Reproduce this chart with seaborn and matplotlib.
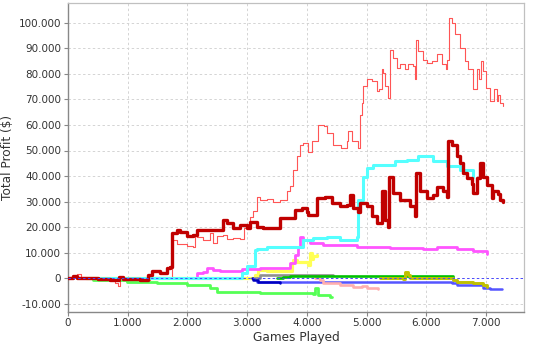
import matplotlib
matplotlib.use("Agg")
import matplotlib.pyplot as plt
import seaborn as sns
import pandas as pd
from matplotlib.ticker import FuncFormatter

# ---------------- data ----------------
red_x = [0, 90, 150, 220, 300, 420, 600, 790, 840, 870, 920, 990, 1200, 1250, 1370, 1420, 1550, 1660,
         1740, 1820, 1990, 2100, 2130, 2160, 2260, 2380, 2430, 2500, 2600, 2660, 2770, 2880, 2940, 3000,
         3050, 3100, 3160, 3220, 3330, 3430, 3550, 3660, 3720, 3775, 3830, 3886, 3940, 4025, 4080, 4190,
         4280, 4330, 4440, 4580, 4670, 4695, 4750, 4860, 4890, 4920, 4946, 5000, 5090, 5170, 5210, 5255,
         5280, 5310, 5365, 5394, 5450, 5506, 5561, 5645, 5700, 5780, 5812, 5824, 5868, 5951, 6008, 6092,
         6176, 6260, 6332, 6353, 6382, 6427, 6482, 6566, 6650, 6705, 6789, 6846, 6889, 6913, 6956, 7002,
         7069, 7136, 7181, 7208, 7236, 7281]
red_y = [0, 800, 1500, 600, 0, -500, -800, -2000, -2900, 0, -400, -1300, -1300, -800, 0, 500, 600, 300,
         15000, 13500, 12800, 12400, 17000, 16000, 15000, 17700, 13800, 16500, 16800, 15500, 15800, 15500,
         19700, 21000, 24000, 26500, 32000, 30500, 31000, 30000, 30700, 34000, 36000, 42500, 47700, 52300,
         52900, 49600, 53600, 60100, 59500, 56900, 52300, 51000, 53600, 57500, 53600, 51000, 64000, 68600,
         75100, 77800, 77100, 73200, 74000, 81700, 80400, 75100, 70600, 89500, 86300, 82400, 83700, 81700,
         83700, 83000, 77800, 93400, 88900, 85500, 84300, 84900, 87600, 83700, 81700, 85500, 102000,
         100000, 95400, 90200, 84900, 81700, 73900, 81700, 78000, 84900, 81000, 74500, 69300, 73900,
         69300, 71900, 68600, 67300]

blue_x = [2993, 3161, 3774, 4500, 6343, 6427, 6511, 6901, 6956, 7069, 7270]
blue_y = [0, -1300, -1300, -1400, -1400, -2000, -2600, -2600, -3900, -4300, -4300]

green_x = [250, 419, 988, 1491, 1993, 2379, 2496, 3216, 3719, 4109, 4137, 4193, 4389, 4430]
green_y = [0, -700, -1300, -2000, -2600, -3900, -5200, -5600, -5900, -6200, -3900, -6500, -7300, -7500]

yellow_x = [300, 3049, 3132, 3188, 3328, 3719, 3747, 3774, 3831, 3941, 4025, 4054, 4082, 4109, 4166]
yellow_y = [0, 0, 1300, 3300, 2800, 2800, 5900, 7200, 6500, 6500, 5200, 9800, 7500, 8800, 9100]

magenta_x = [2040, 2156, 2261, 2323, 2434, 2546, 2881, 2909, 3216, 3663, 3719, 3802, 3858, 3886, 3941,
             4054, 4276, 4836, 5394, 5951, 6176, 6511, 6789, 7013]
magenta_y = [0, 2000, 2600, 3900, 3300, 2900, 2900, 3600, 3900, 3900, 5900, 9100, 12400, 16300, 15000,
             13700, 13000, 12400, 11800, 11600, 12200, 11600, 10700, 9500]

cyan_x = [300, 2881, 2909, 2993, 3049, 3132, 3160, 3328, 3606, 3941, 4109, 4221, 4333, 4556, 4836, 4863,
          4946, 5003, 5114, 5338, 5477, 5561, 5673, 5868, 6119, 6343, 6566, 6789]
cyan_y = [0, 0, 2000, 5000, 5000, 11100, 11500, 12400, 12400, 15000, 15700, 15700, 16300, 15000, 16300,
          30700, 39800, 43100, 44400, 44400, 45700, 46000, 46200, 47700, 45700, 43800, 42500, 39800]

pink_x = [4137, 4221, 4276, 4556, 4779, 4919, 5003, 5197]
pink_y = [0, -700, -2000, -2600, -3300, -3200, -3900, -4300]

gray_x = [3132, 3216, 3500, 4000, 4444]
gray_y = [0, 1200, 1300, 1200, 1100]

darkred_x = [0, 90, 150, 300, 500, 700, 850, 920, 1200, 1340, 1400, 1540, 1660, 1709, 1742, 1821, 1876,
             1993, 2099, 2156, 2261, 2550, 2601, 2658, 2769, 2881, 2993, 3049, 3104, 3160, 3216, 3270,
             3500, 3551, 3750, 3802, 3914, 3998, 4025, 4109, 4166, 4305, 4417, 4556, 4668, 4724, 4780,
             4863, 4891, 5003, 5087, 5171, 5255, 5310, 5365, 5382, 5449, 5561, 5729, 5812, 5829, 5896,
             6008, 6119, 6176, 6286, 6343, 6370, 6427, 6511, 6566, 6621, 6678, 6762, 6789, 6846, 6901,
             6956, 7013, 7097, 7124, 7208, 7236, 7291]
darkred_y = [0, 1000, 300, 0, -300, -500, 600, -300, -500, 1300, 2800, 2000, 3900, 4500, 17600, 19000,
             18000, 16700, 17000, 18900, 18900, 18900, 22900, 21500, 19600, 20900, 19600, 22200, 22200,
             20200, 20200, 19600, 19600, 23500, 23500, 26800, 27500, 26100, 24800, 24800, 31400, 32000,
             29400, 28100, 28500, 32700, 27500, 26100, 29400, 28100, 24200, 21600, 34000, 22900, 20200,
             39800, 33300, 30700, 28100, 24200, 41200, 34000, 31400, 32500, 35900, 34000, 32000, 53600,
             52000, 47700, 45100, 41200, 39200, 36900, 33300, 39200, 45100, 39800, 36600, 31400, 34000,
             33000, 30700, 30000]

darkblue_x = [3077, 3104, 3188, 3384, 3551]
darkblue_y = [0, -700, -1300, -1500, -1800]

darkgreen_x = [3501, 3606, 3719, 4500, 5500, 6343, 6454]
darkgreen_y = [0, 600, 900, 900, 900, 900, 200]

olive_x = [5226, 5610, 5645, 5700, 5729, 6231, 6399, 6454, 6511, 6789, 6956, 7013]
olive_y = [0, -200, 2600, 1300, 300, 300, 0, -700, -1300, -2000, -2600, -3300]

x_ticks = [0, 1000, 2000, 3000, 4000, 5000, 6000, 7000]
y_ticks = [-10000, 0, 10000, 20000, 30000, 40000, 50000, 60000, 70000, 80000, 90000, 100000]

# series in drawing order: (x, y, colour, linewidth)
series = [
    (red_x, red_y, "#FF5555", 0.8),
    (blue_x, blue_y, "#5555FF", 1.8),
    (green_x, green_y, "#55FF55", 2.0),
    (yellow_x, yellow_y, "#FFFF55", 2.3),
    (magenta_x, magenta_y, "#FF55FF", 2.0),
    (cyan_x, cyan_y, "#55FFFF", 2.2),
    (pink_x, pink_y, "#FFAFAF", 1.9),
    (gray_x, gray_y, "#909090", 1.9),
    (darkred_x, darkred_y, "#C00000", 2.4),
    (darkblue_x, darkblue_y, "#0000C0", 1.8),
    (darkgreen_x, darkgreen_y, "#00C000", 1.9),
    (olive_x, olive_y, "#C0C000", 2.1),
]

# ---------------- plotting ----------------
sns.set_style("white")
plt.rcParams["font.family"] = ["DejaVu Sans"]

fig = plt.figure(figsize=(5.41, 3.45), dpi=100)
ax = fig.add_axes([68 / 541, (345 - 311.5) / 345, (524 - 68) / 541, (311.5 - 3.3) / 345])

for i, (xs, ys, col, lw) in enumerate(series):
    df = pd.DataFrame({"games": xs, "profit": ys})
    sns.lineplot(data=df, x="games", y="profit", ax=ax, color=col, linewidth=lw,
                 estimator=None, sort=False, drawstyle="steps-post", zorder=3 + i * 0.01)

ax.axhline(0, color="#4848ff", linewidth=0.7, linestyle=(0, (2.5, 2.5)), zorder=5)

ax.set_xlim(0, 7638)
ax.set_ylim(-13000, 107600)
ax.set_xticks(x_ticks)
ax.set_yticks(y_ticks)
fmt = FuncFormatter(lambda v, p: "{:,.0f}".format(v).replace(",", "."))
ax.xaxis.set_major_formatter(fmt)
ax.yaxis.set_major_formatter(fmt)

ax.grid(True, color="#d4d4d4", linewidth=0.7, linestyle=(0, (2.5, 2.5)), zorder=0)
ax.set_axisbelow(True)

for side in ["top", "right"]:
    ax.spines[side].set_color("#c0c0c0")
    ax.spines[side].set_linewidth(0.9)
for side in ["left", "bottom"]:
    ax.spines[side].set_color("#888888")
    ax.spines[side].set_linewidth(1.0)

ax.tick_params(axis="both", which="major", length=3, width=0.8, color="#888888",
               labelsize=7.5, labelcolor="#333333", pad=2, direction="out",
               bottom=True, left=True)

ax.set_xlabel("Games Played", fontsize=8.7, color="#333333", labelpad=2)
ax.set_ylabel("Total Profit ($)", fontsize=8.7, color="#333333", labelpad=3)

fig.savefig("out.png", dpi=100)
